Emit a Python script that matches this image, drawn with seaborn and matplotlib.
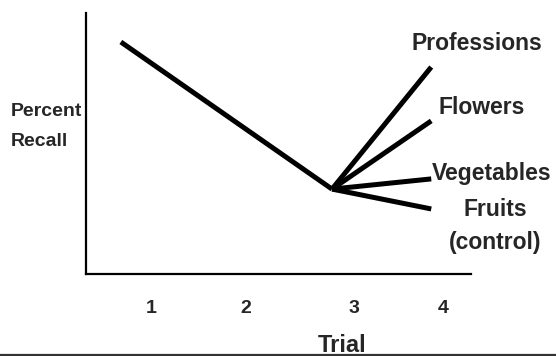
import matplotlib.pyplot as plt
import matplotlib.lines as mlines
import seaborn as sns
import pandas as pd

# schematic values (recall on a 0-100 scale)
trial_ticks = [1.0, 1.97, 3.09, 4.0]
trial_labels = ['1', '2', '3', '4']

decline_x = [0.69, 2.86]
decline_y = [88.8, 32.5]

branch_names = ['Professions', 'Flowers', 'Vegetables', 'Fruits\n(control)']
branch_x = [2.86, 3.88]
branch_start = 32.5
branch_end = [79.2, 58.6, 36.4, 24.9]

# label offsets from the end of each branch (pixels)
label_dx = [46, 50, 60, 64]
label_dy = [24, 13, 5, -17]

rows = [('decline', x, y) for x, y in zip(decline_x, decline_y)]
for name, end in zip(branch_names, branch_end):
    rows.append((name, branch_x[0], branch_start))
    rows.append((name, branch_x[1], end))
df = pd.DataFrame(rows, columns=['series', 'trial', 'recall'])

sns.set_style('white')
plt.rcParams['font.family'] = ['Liberation Sans', 'DejaVu Sans']
plt.rcParams['font.weight'] = 'bold'

fig = plt.figure(figsize=(5.56, 3.56), dpi=100)
ax = fig.add_axes([0.1547, 0.2303, 0.6925, 0.734])

sns.lineplot(data=df, x='trial', y='recall', units='series', estimator=None,
             sort=False, color='black', lw=3.6, solid_capstyle='butt', ax=ax)

for name, end, dx, dy in zip(branch_names, branch_end, label_dx, label_dy):
    ax.annotate(name, xy=(branch_x[1], end), xytext=(dx, dy),
                textcoords='offset pixels', ha='center', va='center',
                fontsize=16.5, fontweight='bold', linespacing=1.55,
                annotation_clip=False)

ax.set_xlim(0.332, 4.289)
ax.set_ylim(0, 100)
ax.set_xticks(trial_ticks)
ax.set_xticklabels(trial_labels, fontsize=14, fontweight='bold')
ax.set_yticks([])
ax.tick_params(axis='x', length=0, pad=19)

ax.set_xlabel('Trial', fontsize=17, fontweight='bold')
ax.xaxis.set_label_coords(0.665, -0.228)
ax.set_ylabel('Percent\nRecall', fontsize=14, fontweight='bold',
              rotation=0, ha='left', va='center', linespacing=2.0)
ax.yaxis.set_label_coords(-0.195, 0.566)

sns.despine(ax=ax)
for side in ['left', 'bottom']:
    ax.spines[side].set_color('black')
    ax.spines[side].set_linewidth(1.6)

fig.add_artist(mlines.Line2D([0, 1], [0.004, 0.004], color='#333333', lw=1.6))

fig.savefig('out.png', dpi=100)
